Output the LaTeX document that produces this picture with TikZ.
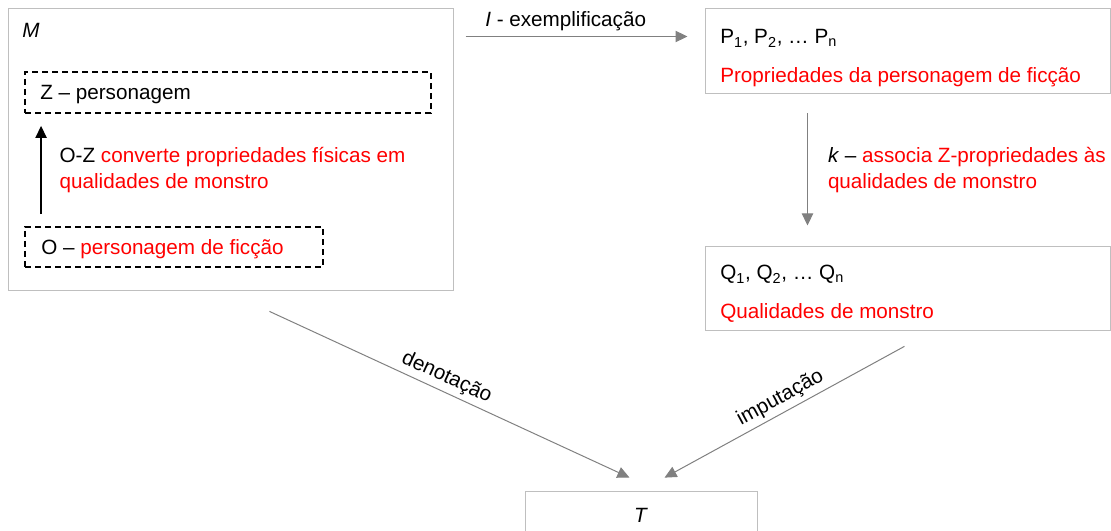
\documentclass[tikz,border=0pt]{standalone}
\usepackage{fontspec}
\setmainfont{Liberation Sans}
\usepackage{tikz}
\usetikzlibrary{arrows.meta,positioning}
\definecolor{framegray}{RGB}{191,191,191}
\definecolor{arrowgray}{RGB}{128,128,128}
\definecolor{textred}{RGB}{255,0,0}

\begin{document}
\begin{tikzpicture}[x=0.75pt, y=-0.75pt, >={Triangle[length=9pt,width=8.5pt]},
        font=\fontsize{15.5}{19.5}\selectfont,
        frame/.style={draw=framegray, line width=0.75pt, inner sep=0pt},
        dashframe/.style={draw, line width=1.4pt, dash pattern=on 4.5pt off 3pt, inner sep=0pt},
        txt/.style={inner sep=0pt, anchor=base west},
        lbl/.style={inner sep=0pt, align=left},
        flow/.style={draw=arrowgray, line width=0.75pt},
        oz/.style={draw=black, line width=0.9pt}]
        \useasboundingbox (0,0) rectangle (1111,531);

        \node[frame, minimum width=333.75pt, minimum height=210.75pt] (m_box) at (230.5,149.5) {};
        \node[txt]       (m_lbl) at (22,38)   {\textit{M}};
        \node[dashframe, minimum width=304.5pt, minimum height=30.75pt] (z_box) at (228,92.5) {};
        \node[txt]       (z_lbl) at (40,100)  {Z – personagem};
        \node[dashframe, minimum width=223.5pt, minimum height=30pt] (o_box) at (174,247) {};
        \node[txt]       (o_lbl) at (41,255)  {O – \textcolor{textred}{personagem de ficção}};

        \node[frame, minimum width=303.75pt, minimum height=63.75pt] (p_box) at (907.5,51.5) {};
        \node[txt]       (p_lbl) at (720,44)  {P\textsubscript{1}, P\textsubscript{2}, … P\textsubscript{n}};
        \node[txt,textred] (p_txt) at (720,83) {Propriedades da personagem de ficção};
        \node[frame, minimum width=303.75pt, minimum height=62.25pt] (q_box) [below=114pt of p_box] {};
        \node[txt]       (q_lbl) at (720,280) {Q\textsubscript{1}, Q\textsubscript{2}, … Q\textsubscript{n}};
        \node[txt,textred] (q_txt) at (720,318) {Qualidades de monstro};

        \node[frame, minimum width=174pt, minimum height=36.75pt] (t_box) at (641,515.5) {\textit{T}};

        % setas
        \path[->]
                ([xshift=12.75pt]o_box.north west) edge[oz, shorten <=9pt, shorten >=9pt]
                node[lbl, midway, right=13.5pt]
                {O-Z {\color{textred}converte propriedades físicas em}\\{\color{textred}qualidades de monstro}}
                ([xshift=12.75pt]z_box.south west)
                ([yshift=-21pt]m_box.north east) edge[flow, shorten <=9pt, shorten >=12.75pt]
                node[lbl, midway, above=4pt, xshift=-10pt]
                {\textit{I} - exemplificação} ([yshift=-21pt]p_box.north west)
                ([xshift=77.25pt]p_box.south west) edge[flow, shorten <=14.25pt, shorten >=15.75pt]
                node[lbl, midway, right=15pt]
                {\textit{k} – {\color{textred}associa Z-propriedades às}\\{\color{textred}qualidades de monstro}}
                ([xshift=77.25pt]q_box.north west)
                ([xshift=162.5pt]m_box.south west) edge[flow, shorten <=37.4pt, shorten >=23.2pt]
                node[lbl, midway, sloped, above=3pt] {denotação} ([xshift=99.75pt]t_box.north west)
                ([xshift=171.7pt]q_box.south west) edge[flow, shorten <=24.75pt, shorten >=20.1pt]
                node[lbl, midway, sloped, above=3pt] {imputação} ([xshift=87.4pt]t_box.north west);
\end{tikzpicture}
\end{document}
